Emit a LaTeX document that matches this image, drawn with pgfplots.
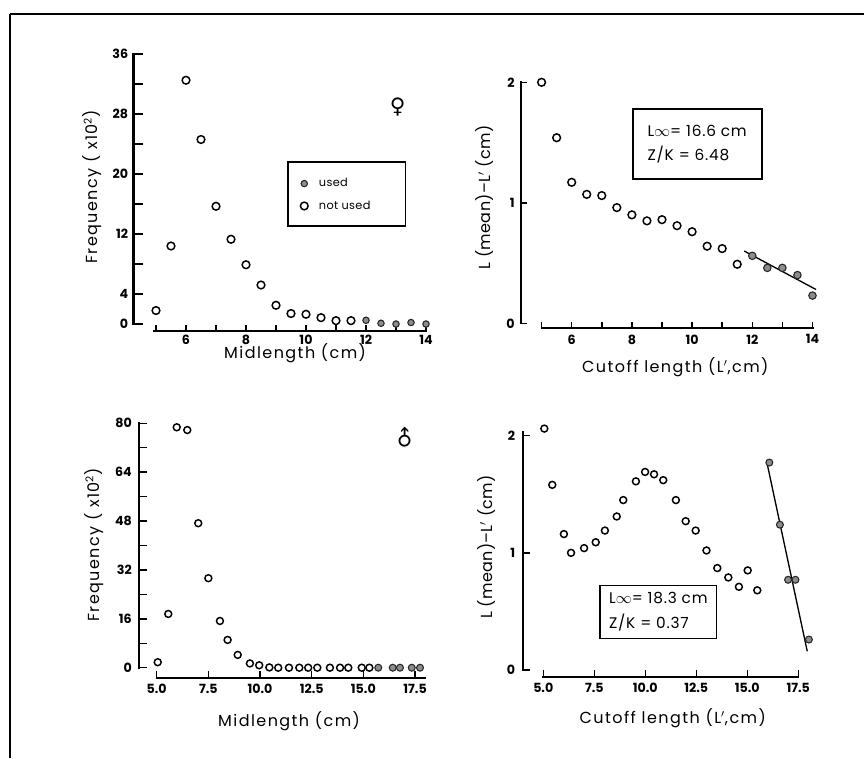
\documentclass[border=0pt]{standalone}
\usepackage{pgfplots}
\pgfplotsset{compat=1.18}
\usepackage{fontspec}
\setmainfont{Poppins}
\newfontfamily\symfont{DejaVu Sans}

\pgfplotsset{
  panel/.style={
    scale only axis, clip=false,
    axis x line*=bottom, axis y line*=left,
    axis line style={draw=none},
    tick align=inside,
    tick style={black, line width=1.1pt},
    xtick style={/pgfplots/major tick length=4.5pt},
    ytick style={/pgfplots/major tick length=7pt},
    minor tick num=0,
    /pgf/number format/assume math mode=true,
    tick label style={font=\fontsize{9.5}{10}\selectfont\bfseries, inner sep=1pt},
    label style={font=\fontsize{12}{14}\selectfont\addfontfeatures{LetterSpace=9}},
    xlabel style={anchor=base},
    ylabel style={anchor=center},
  },
  axln/.style={black, line width=1.6pt, line cap=rect, forget plot, mark=none},
  openm/.style={only marks, mark=o, mark size=2.9pt, mark options={line width=1.1pt, draw=black}},
  fillm/.style={only marks, mark=*, mark size=2.8pt, mark options={line width=0.8pt, draw=black!85, fill=black!45}},
  openb/.style={only marks, mark=o, mark size=2.6pt, mark options={line width=1.1pt, draw=black}},
  fillb/.style={only marks, mark=*, mark size=2.6pt, mark options={line width=0.8pt, draw=black!85, fill=black!45}},
}

\begin{document}
\begin{tikzpicture}
\path[use as bounding box] (0,0) rectangle (648pt,568.5pt);
\draw[line width=2.2pt] (7.5pt,558pt) -- (648pt,558pt);
\draw[line width=2pt] (7.5pt,558pt) -- (7.5pt,0pt);

% ---------- Panel 1 (female, frequency)
\begin{axis}[panel, at={(100.125pt,320.25pt)}, anchor=south west,
  width=226.125pt, height=207.75pt,
  xmin=4.25, xmax=14.3, ymin=-0.93, ymax=36,
  xtick={5,6,7,8,9,10,11,12,13,14}, xticklabels={{},6,{},8,{},10,{},12,{},14},
  ytick={0,4,8,12,16,20,24,28,32,36}, yticklabels={0,4,{},12,{},20,{},28,{},36},
  xticklabel shift=2pt, yticklabel shift=2.8pt,
  xlabel={Midlength (cm)}, ylabel={Frequency ( x10\textsuperscript{2})},
  xlabel style={at={(axis description cs:0.536,-0.101)}},
  ylabel style={at={(axis description cs:-0.1376,0.52)}},
  legend style={at={(axis description cs:0.5655,0.5332)}, anchor=north west,
    xshift=-3pt, yshift=8.4pt, draw=none, fill=none, inner sep=0pt,
    row sep=0pt, nodes={inner sep=0pt},
    font=\fontsize{8.5}{10}\selectfont\addfontfeatures{LetterSpace=3}},
  legend cell align=left,
  legend image code/.code={\path[draw=none,fill=none] (-3pt,-8.4pt) rectangle (3pt,8.4pt); \draw[#1] plot coordinates {(0pt,0pt)};},
]
\addplot[fillm, mark size=2.4pt] coordinates {(12,0.5)(12.5,0.1)(13,0)(13.5,0.2)(14,0)};
\addlegendentry{\rule{8pt}{0pt}used}
\addplot[openm] coordinates {
(5,1.8)(5.5,10.4)(6,32.5)(6.5,24.6)(7,15.7)(7.5,11.3)(8,7.9)(8.5,5.2)(9,2.5)
(9.5,1.4)(10,1.3)(10.5,0.85)(11,0.45)(11.5,0.45)};
\addlegendentry{\rule{8pt}{0pt}not used}
\addplot[axln] coordinates {(4.25,0)(4.25,36)};
\addplot[axln] coordinates {(4.93,-0.93)(14,-0.93)};
\draw[line width=1.2pt] (axis cs:9.39,21.6) rectangle (axis cs:13.32,13.1);
\node[font=\symfont\fontsize{16}{16}\selectfont] at (axis cs:13.06,28.9) {♀};
\end{axis}

% ---------- Panel 2 (female, cutoff)
\begin{axis}[panel, at={(390.525pt,322.275pt)}, anchor=south west,
  width=225.6pt, height=184.5pt,
  xmin=4.306, xmax=14.3, ymin=-0.0415, ymax=2,
  xtick={5,6,7,8,9,10,11,12,13,14}, xticklabels={{},6,{},8,{},10,{},12,{},14},
  ytick={0,1,2}, yticklabels={0,1,2},
  ytick style={/pgfplots/major tick length=4.5pt},
  xticklabel shift=3.5pt, yticklabel shift=3.3pt,
  xlabel={Cutoff length (L$'$,cm)},
  ylabel={\addfontfeatures{LetterSpace=2}L (mean)--L$'$ (cm)},
  xlabel style={at={(axis description cs:0.514,-0.18)}},
  ylabel style={at={(axis description cs:-0.121,0.532)}},
]
\addplot[openm] coordinates {
(5,2.0)(5.5,1.54)(6,1.17)(6.5,1.07)(7,1.06)(7.5,0.96)(8,0.90)(8.5,0.85)(9,0.86)
(9.5,0.81)(10,0.76)(10.5,0.64)(11,0.62)(11.5,0.49)};
\addplot[fillm] coordinates {(12,0.56)(12.5,0.46)(13,0.46)(13.5,0.40)(14,0.23)};
\addplot[black, line width=1pt] coordinates {(11.73,0.60) (14.12,0.28)};
\addplot[axln] coordinates {(4.306,0)(4.306,2)};
\addplot[axln] coordinates {(5,-0.0415)(14,-0.0415)};
\node[draw, line width=1.2pt, minimum width=96.75pt, minimum height=52.5pt,
  align=left, font=\fontsize{11.5}{18}\selectfont\addfontfeatures{LetterSpace=5}]
  at (axis cs:10.17,1.486) {L$\infty$= 16.6 cm\\Z/K = 6.48};
\end{axis}

% ---------- Panel 3 (male, frequency)
\begin{axis}[panel, at={(104.25pt,60.225pt)}, anchor=south west,
  width=214.8pt, height=190.8pt,
  xmin=4.144, xmax=18.0, ymin=-3.27, ymax=80,
  xtick={5,7.5,10,12.5,15,17.5}, xticklabels={5.0,7.5,10.0,12.5,15.0,17.5},
  ytick={0,8,16,24,32,40,48,56,64,72,80}, yticklabels={0,{},16,{},32,{},48,{},64,{},80},
  ytick style={/pgfplots/major tick length=6pt},
  xtick style={/pgfplots/major tick length=5pt},
  xticklabel shift=3.7pt, yticklabel shift=4.2pt,
  xlabel={Midlength (cm)}, ylabel={Frequency ( x10\textsuperscript{2})},
  xlabel style={at={(axis description cs:0.524,-0.19)}},
  ylabel style={at={(axis description cs:-0.158,0.522)}},
]
\addplot[openb] coordinates {
(5.05,1.8)(5.56,17.6)(5.97,78.7)(6.48,77.8)(7.01,47.3)(7.5,29.3)(8.06,15.3)(8.43,9.1)
(8.92,4.2)(9.51,1.4)(9.96,0.8)(10.45,0.1)(10.88,0)(11.4,0)(11.9,0)(12.33,0)(12.77,0)
(13.38,0)(13.87,0)(14.27,0)(14.92,0)(15.29,0)};
\addplot[fillb] coordinates {(15.72,0)(16.42,0)(16.77,0)(17.34,0)(17.74,0)};
\addplot[axln] coordinates {(4.144,0)(4.144,80)};
\addplot[axln] coordinates {(5,-3.27)(18,-3.27)};
\node[font=\symfont\fontsize{16}{16}\selectfont, rotate=45] at (axis cs:17.0,75) {♂};
\end{axis}

% ---------- Panel 4 (male, cutoff)
\begin{axis}[panel, at={(392.475pt,60.975pt)}, anchor=south west,
  width=218.475pt, height=183.45pt,
  xmin=4.02, xmax=18.3, ymin=-0.057, ymax=2.03,
  xtick={5,7.5,10,12.5,15,17.5}, xticklabels={5.0,7.5,10.0,12.5,15.0,17.5},
  ytick={0,1,2}, yticklabels={0,1,2},
  ytick style={/pgfplots/major tick length=5pt},
  xtick style={/pgfplots/major tick length=5pt},
  xticklabel shift=3.5pt, yticklabel shift=5pt,
  xlabel={Cutoff length (L$'$,cm)},
  ylabel={\addfontfeatures{LetterSpace=2}L (mean)--L$'$ (cm)},
  xlabel style={at={(axis description cs:0.513,-0.192)}},
  ylabel style={at={(axis description cs:-0.128,0.531)}},
]
\addplot[openb] coordinates {
(5.05,2.06)(5.44,1.58)(6.01,1.16)(6.36,1.00)(7.0,1.04)(7.57,1.09)(8.02,1.19)(8.6,1.31)
(8.92,1.45)(9.54,1.61)(9.99,1.69)(10.43,1.67)(10.88,1.62)(11.5,1.45)(11.98,1.27)
(12.47,1.19)(13.0,1.02)(13.53,0.87)(14.07,0.79)(14.59,0.71)(15.02,0.85)(15.49,0.68)};
\addplot[fillb] coordinates {(16.08,1.77)(16.6,1.24)(17.0,0.77)(17.36,0.77)(18.02,0.26)};
\addplot[black, line width=1pt] coordinates {(15.95,1.78) (17.94,0.16)};
\addplot[axln] coordinates {(4.02,0)(4.02,2.03)};
\addplot[axln] coordinates {(5,-0.057)(17.5,-0.057)};
\node[draw, line width=1.2pt, minimum width=87.5pt, minimum height=39.5pt,
  align=left, font=\fontsize{11.5}{18.75}\selectfont\addfontfeatures{LetterSpace=5}]
  at (axis cs:10.64,0.495) {L$\infty$= 18.3 cm\\Z/K = 0.37};
\end{axis}
\end{tikzpicture}
\end{document}
